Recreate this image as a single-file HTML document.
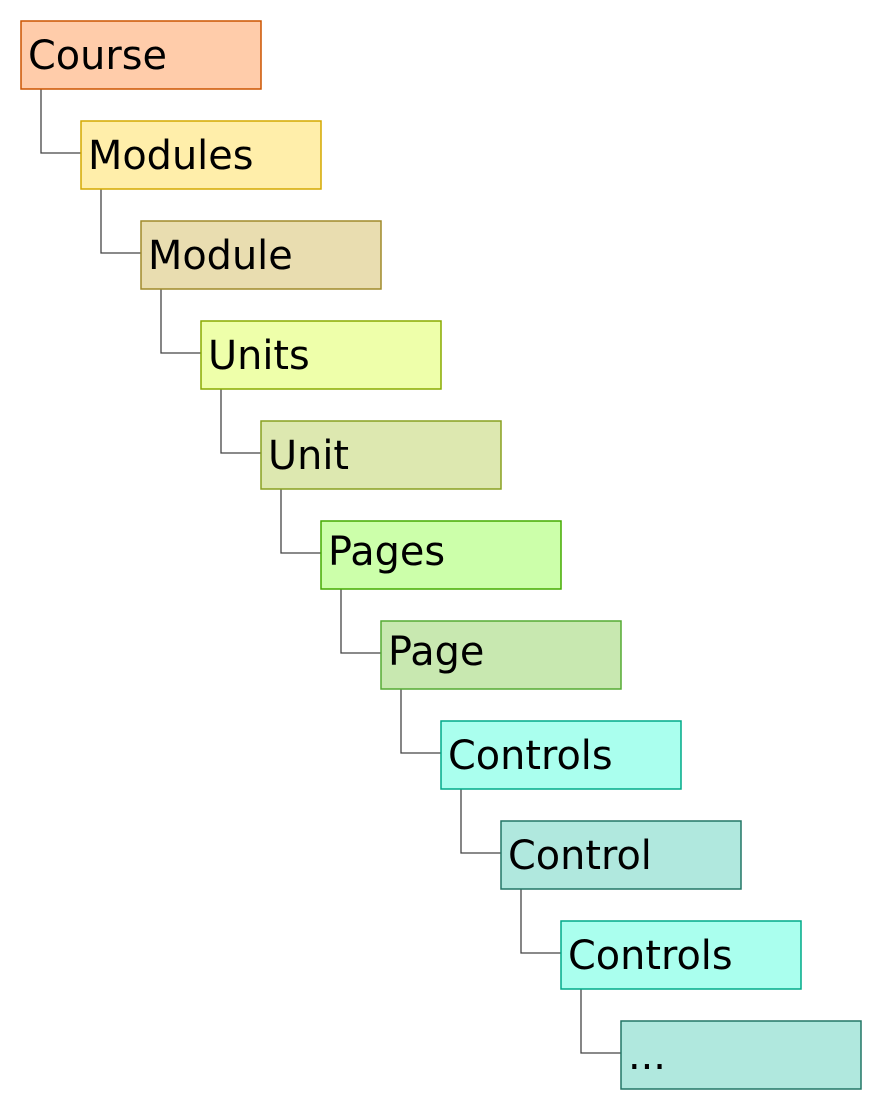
<!DOCTYPE html>
<html><head><meta charset="utf-8"><style>body{margin:0;background:#fff}svg{display:block}</style></head>
<body>
<svg width="882" height="1110" xmlns="http://www.w3.org/2000/svg" font-family="'DejaVu Sans', 'Liberation Sans', sans-serif" font-size="39.8">
<g fill="none" stroke="#444" stroke-width="1.3">
<path d="M41 88V153H81"/><path d="M101 188V253H141"/><path d="M161 288V353H201"/><path d="M221 388V453H261"/><path d="M281 488V553H321"/><path d="M341 588V653H381"/><path d="M401 688V753H441"/><path d="M461 788V853H501"/><path d="M521 888V953H561"/><path d="M581 988V1053H621"/>
</g>
<g stroke-width="1.5">
<rect x="21" y="21" width="240" height="68" fill="#ffccaa" stroke="#cc5500"/>
<rect x="81" y="121" width="240" height="68" fill="#ffeeaa" stroke="#d4a800"/>
<rect x="141" y="221" width="240" height="68" fill="#e9ddb0" stroke="#9f8a2a"/>
<rect x="201" y="321" width="240" height="68" fill="#eeffaa" stroke="#88aa00"/>
<rect x="261" y="421" width="240" height="68" fill="#dde8b0" stroke="#88a020"/>
<rect x="321" y="521" width="240" height="68" fill="#ccffaa" stroke="#44aa00"/>
<rect x="381" y="621" width="240" height="68" fill="#c8e8b0" stroke="#55aa33"/>
<rect x="441" y="721" width="240" height="68" fill="#aaffee" stroke="#00aa88"/>
<rect x="501" y="821" width="240" height="68" fill="#b0e8de" stroke="#227766"/>
<rect x="561" y="921" width="240" height="68" fill="#aaffee" stroke="#00aa88"/>
<rect x="621" y="1021" width="240" height="68" fill="#b0e8de" stroke="#227766"/>
</g>
<g fill="#000">
<text x="28" y="69">Course</text>
<text x="88" y="169">Modules</text>
<text x="148" y="269">Module</text>
<text x="208" y="369">Units</text>
<text x="268" y="469">Unit</text>
<text x="328" y="565">Pages</text>
<text x="388" y="665">Page</text>
<text x="448" y="769">Controls</text>
<text x="508" y="869">Control</text>
<text x="568" y="969">Controls</text>
<text x="628" y="1069">...</text>
</g>
</svg>
</body></html>
